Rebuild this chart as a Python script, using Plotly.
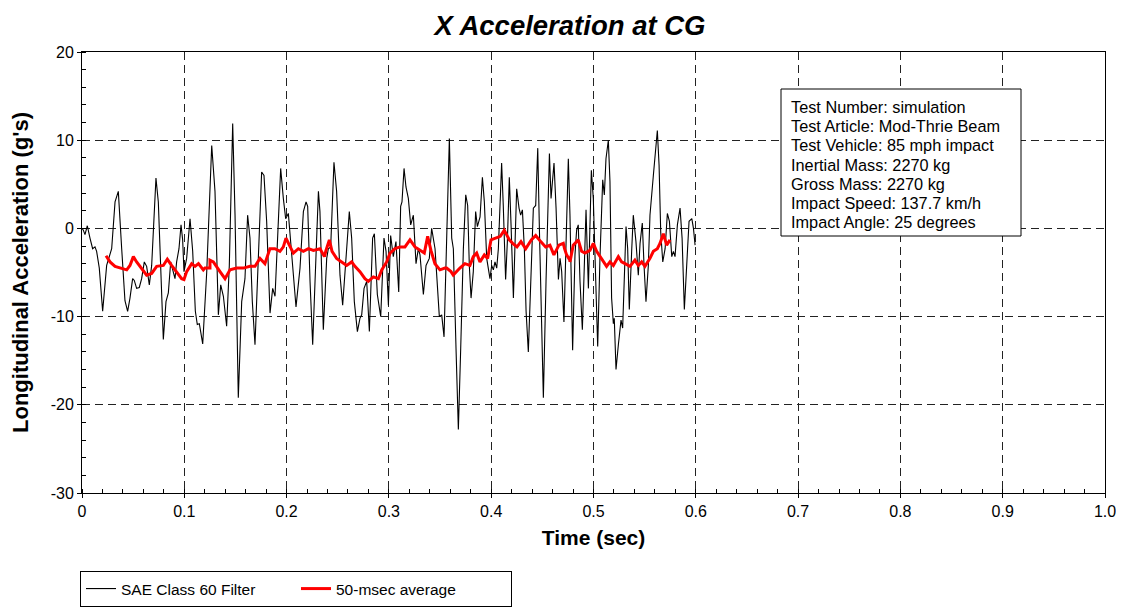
import plotly.graph_objects as go

# ---------------- data ----------------
sae_t = [0.0, 0.0013, 0.0029, 0.0052, 0.0078, 0.0104, 0.0127, 0.0143, 0.0169, 0.0202,
         0.0241, 0.029, 0.0323, 0.0355, 0.0388, 0.042, 0.0446, 0.0469, 0.0495, 0.0511,
         0.0534, 0.056, 0.0583, 0.0609, 0.0632, 0.0658, 0.0681, 0.0704, 0.0723, 0.0746,
         0.0769, 0.0795, 0.0821, 0.0844, 0.0867, 0.0893, 0.0909, 0.0925, 0.0948, 0.0968,
         0.0984, 0.0997, 0.1023, 0.1056, 0.1082, 0.1108, 0.1127, 0.1147, 0.118, 0.1219,
         0.1268, 0.1300, 0.1333, 0.1356, 0.1382, 0.1414, 0.1440, 0.1473, 0.1496, 0.1528,
         0.1561, 0.1593, 0.1619, 0.1642, 0.1665, 0.1691, 0.1724, 0.1756, 0.1779, 0.1805,
         0.1838, 0.1864, 0.1887, 0.1919, 0.1942, 0.1968, 0.1991, 0.2017, 0.205, 0.2092,
         0.2131, 0.2164, 0.219, 0.2206, 0.2229, 0.2255, 0.2278, 0.2311, 0.2326, 0.2359,
         0.2392, 0.2408, 0.2431, 0.2463, 0.2489, 0.2522, 0.2548, 0.2581, 0.2613, 0.2636,
         0.2662, 0.2692, 0.2717, 0.2734, 0.2757, 0.2783, 0.2809, 0.2841, 0.2858, 0.2887,
         0.292, 0.2952, 0.2972, 0.2995, 0.3017, 0.3043, 0.3069, 0.3096, 0.3115, 0.3128,
         0.3148, 0.3167, 0.319, 0.3213, 0.3239, 0.3265, 0.3288, 0.3304, 0.3337, 0.3363,
         0.3395, 0.3418, 0.3451, 0.3493, 0.3516, 0.3539, 0.3565, 0.3591, 0.3614, 0.363,
         0.3656, 0.3679, 0.3702, 0.3728, 0.3751, 0.377, 0.3786, 0.3803, 0.3825, 0.3848,
         0.3865, 0.3891, 0.3914, 0.3933, 0.3956, 0.3988, 0.4005, 0.4021, 0.4037, 0.4054,
         0.407, 0.4102, 0.4118, 0.4141, 0.4158, 0.4177, 0.4194, 0.4217, 0.4249, 0.4272,
         0.4288, 0.4305, 0.4324, 0.4341, 0.4363, 0.4386, 0.4412, 0.4435, 0.4455, 0.4471,
         0.4494, 0.451, 0.4536, 0.4569, 0.4585, 0.4614, 0.4634, 0.4657, 0.4673, 0.4689,
         0.4711, 0.473, 0.4754, 0.477, 0.4796, 0.4819, 0.4835, 0.4851, 0.4868, 0.4891,
         0.4907, 0.4927, 0.495, 0.4979, 0.4998, 0.5018, 0.5041, 0.5063, 0.509, 0.5106,
         0.5122, 0.5145, 0.5161, 0.5177, 0.5194, 0.5203, 0.522, 0.5243, 0.5269, 0.5285,
         0.5301, 0.5318, 0.5334, 0.535, 0.5373, 0.5389, 0.5415, 0.5438, 0.5455, 0.5477,
         0.5494, 0.5513, 0.5536, 0.5552, 0.5585, 0.5608, 0.5624, 0.5641, 0.5657, 0.5677,
         0.57, 0.5722, 0.5742, 0.5765, 0.5781, 0.5797, 0.582, 0.5846, 0.5866, 0.5888,
         0.5911, 0.5934, 0.5961, 0.5977, 0.5993]
sae_g = [0.0, -0.2, -0.7, 0.3, -1.1, -2.3, -2.1, -2.6, -4.5, -9.4,
         -4.2, -2.3, 3.0, 4.2, -2.3, -8.2, -9.4, -7.9, -5.7, -5.9,
         -6.8, -6.7, -5.7, -3.8, -4.3, -6.4, -4.2, 1.5, 5.7, 3.0,
         -5.3, -12.6, -8.3, -7.3, -3.8, -4.9, -5.7, -3.8, -2.3, 0.4,
         -1.3, -4.9, -3.4, 1.1, -2.6, -9.4, -10.9, -10.8, -13.1, -5.0,
         9.4, 4.2, -9.8, -6.4, -7.7, -11.1, -4.2, 11.9, 1.5, -19.2,
         -8.3, -5.7, 1.5, -1.1, -8.3, -13.2, -3.0, 6.4, 6.0, 0.8,
         -9.6, -6.8, -7.7, 1.5, 6.8, 3.4, 1.1, 1.7, -3.0, -8.9,
         -4.5, 1.9, 3.0, 2.5, -6.0, -13.2, -6.0, 4.2, 1.9, -11.5,
         -3.4, -2.3, -2.1, 7.5, 4.2, -5.3, -8.7, -3.0, 1.9, -1.1,
         -8.3, -11.7, -10.2, -9.8, -6.8, -6.0, -11.7, -1.1, -0.6, -7.5,
         -10.0, -1.1, -2.6, -8.7, -0.8, -3.2, -1.5, -7.2, 2.5, 3.0,
         6.8, 4.7, 3.4, 0.4, 1.5, -4.0, -2.3, -3.0, -7.5, -4.2,
         -3.4, 0.0, -2.3, -10.0, -9.8, -12.3, -2.3, 10.2, -1.1, -2.3,
         -13.6, -22.8, -13.6, -2.3, 3.8, 2.6, -4.2, -7.9, -4.9, 1.9,
         0.2, 1.3, 5.8, 3.0, -3.4, -5.7, -4.2, -4.7, -3.8, -4.5,
         -2.3, 7.4, 2.6, -5.8, -1.5, 5.8, 0.4, -7.9, 4.5, 2.3,
         1.5, 2.1, -2.3, -9.4, -14.0, -5.7, 2.3, 2.6, 9.1, 0.0,
         -13.6, -19.2, -6.0, 8.5, 3.4, 7.4, 2.3, -5.8, -3.4, -4.9,
         -10.6, -2.3, 7.9, 1.5, -13.8, -3.0, -0.2, 0.4, -6.0, -11.5,
         -4.2, 2.1, -6.8, 6.6, 3.4, -6.0, -13.4, -3.4, 5.5, 3.8,
         7.9, 10.0, 5.3, -7.9, -10.8, -10.2, -16.0, -13.2, -10.4, -11.3,
         -6.0, 0.2, -2.3, -9.2, -2.6, 1.5, -1.5, -5.3, -1.7, 0.6,
         -4.2, -8.3, -4.2, 1.5, 6.0, 9.1, 11.1, 7.2, -0.4, -3.8,
         -2.3, 1.7, 0.8, -3.2, -2.6, -3.2, 0.4, 2.3, -1.1, -9.2,
         -4.2, 0.8, 1.1, 0.0, -1.9]

avg_t = [0.0235, 0.0274, 0.0323, 0.0372, 0.0437, 0.0469, 0.0502, 0.0534, 0.0583, 0.0632,
         0.0681, 0.073, 0.0795, 0.0834, 0.0876, 0.0925, 0.0974, 0.0997, 0.1023, 0.1072,
         0.1105, 0.1138, 0.1186, 0.1219, 0.1251, 0.1202, 0.1251, 0.1284, 0.1349, 0.1398,
         0.1447, 0.1512, 0.1577, 0.1642, 0.1691, 0.174, 0.1788, 0.1837, 0.1886, 0.1935,
         0.1968, 0.1994, 0.2027, 0.2066, 0.2115, 0.2164, 0.2213, 0.2262, 0.2327, 0.237,
         0.2385, 0.2418, 0.2444, 0.2489, 0.2538, 0.2587, 0.2636, 0.2668, 0.2717, 0.2766,
         0.2799, 0.2848, 0.2897, 0.293, 0.2978, 0.3011, 0.306, 0.3109, 0.3157, 0.3206,
         0.3255, 0.3304, 0.3346, 0.3379, 0.3411, 0.345, 0.3499, 0.3548, 0.3607, 0.3564,
         0.3629, 0.3694, 0.3743, 0.3792, 0.3825, 0.3858, 0.389, 0.3933, 0.3965, 0.3998,
         0.4047, 0.4089, 0.4128, 0.4177, 0.421, 0.4252, 0.4291, 0.4337, 0.4392, 0.4435,
         0.4484, 0.4532, 0.4574, 0.4613, 0.4662, 0.4717, 0.4769, 0.4705, 0.4737, 0.477,
         0.4802, 0.4851, 0.4884, 0.4916, 0.4965, 0.4998, 0.5031, 0.5079, 0.5128, 0.5161,
         0.5194, 0.5243, 0.5275, 0.5308, 0.5357, 0.5405, 0.5438, 0.5471, 0.5503, 0.5552,
         0.5585, 0.5624, 0.565, 0.5683, 0.5715, 0.5748]
avg_g = [-3.1, -3.8, -4.3, -4.5, -4.7, -4.2, -3.2, -3.8, -4.5, -5.3,
         -5.1, -4.3, -4.2, -3.5, -4.2, -4.9, -5.7, -5.8, -4.9, -4.0,
         -4.3, -4.0, -4.7, -4.5, -3.6, -4.5, -4.5, -3.8, -4.9, -5.7,
         -4.7, -4.5, -4.5, -4.3, -4.3, -3.4, -4.0, -2.3, -2.3, -2.6,
         -2.1, -1.1, -1.9, -2.8, -2.3, -2.6, -2.3, -2.5, -2.3, -3.2,
         -2.5, -1.3, -2.6, -3.4, -3.8, -4.2, -3.8, -4.3, -4.9, -5.7,
         -6.0, -5.5, -5.7, -4.7, -3.8, -2.8, -2.3, -2.1, -2.1, -1.3,
         -2.1, -2.5, -2.8, -0.9, -2.5, -4.0, -4.7, -4.5, -4.9, -4.5,
         -5.3, -4.5, -4.0, -4.2, -3.2, -2.8, -3.8, -3.0, -3.4, -1.3,
         -1.1, -0.9, -0.2, -1.3, -1.7, -2.1, -1.5, -2.3, -1.3, -0.8,
         -1.5, -2.1, -1.9, -3.0, -1.9, -2.3, -3.6, -1.7, -3.0, -3.8,
         -1.9, -1.3, -2.6, -2.8, -2.5, -1.7, -2.6, -3.4, -4.3, -3.8,
         -4.2, -3.2, -3.8, -4.0, -4.3, -3.6, -4.2, -3.8, -4.3, -3.4,
         -2.6, -2.3, -1.7, -0.6, -1.9, -1.3]

x_tick_vals = [0, 0.1, 0.2, 0.3, 0.4, 0.5, 0.6, 0.7, 0.8, 0.9, 1.0]
x_tick_text = ["0", "0.1", "0.2", "0.3", "0.4", "0.5", "0.6", "0.7", "0.8", "0.9", "1.0"]
y_tick_vals = [-30, -20, -10, 0, 10, 20]
y_tick_text = ["-30", "-20", "-10", "0", "10", "20"]

info_lines = ["Test Number: simulation",
              "Test Article: Mod-Thrie Beam",
              "Test Vehicle: 85 mph impact",
              "Inertial Mass: 2270 kg",
              "Gross Mass: 2270 kg",
              "Impact Speed: 137.7 km/h",
              "Impact Angle: 25 degrees"]

# red trace points are in reading order; sort by time
pairs = sorted(zip(avg_t, avg_g))
avg_t_s = [p[0] for p in pairs]
avg_g_s = [p[1] for p in pairs]

FONT = "Arial, Liberation Sans, sans-serif"

# the page body has an 8px margin: the figure is drawn 8px in from the window corner
OFF = 8
FIG_W, FIG_H = 1124 - OFF, 607 - OFF
# plot area in window pixels (reference coordinates)
L, R, T, B = 82, 1105, 52, 493
W, H = R - L, B - T


def px_x(p):
    return (p - L) / W


def px_y(p):
    return (B - p) / H


fig = go.Figure()
fig.add_trace(go.Scatter(x=sae_t, y=sae_g, mode="lines", name="SAE Class 60 Filter",
                         line=dict(color="black", width=1.1)))
fig.add_trace(go.Scatter(x=avg_t_s, y=avg_g_s, mode="lines", name="50-msec average",
                         line=dict(color="#ff0000", width=3)))

fig.update_layout(
    width=FIG_W, height=FIG_H,
    margin=dict(l=L - OFF, r=1124 - R, t=T - OFF, b=607 - B, autoexpand=False),
    paper_bgcolor="white", plot_bgcolor="white",
    font=dict(family=FONT, size=16, color="black"),
    title=dict(text="<b><i>X Acceleration at CG</i></b>", x=(570 - OFF) / FIG_W, xanchor="center",
               y=1 - (25 - OFF) / FIG_H, yanchor="middle",
               font=dict(size=27.5, family=FONT)),
    showlegend=True,
    legend=dict(orientation="h", x=px_x(80), xanchor="left", y=px_y(589), yanchor="middle",
                bordercolor="black", borderwidth=1, bgcolor="white",
                font=dict(size=15.5, family=FONT), entrywidth=170, entrywidthmode="pixels",
                tracegroupgap=0, itemwidth=30),
)

axis_common = dict(showline=True, linecolor="black", linewidth=1, mirror=True,
                   showgrid=True, gridcolor="#222", gridwidth=1, griddash="8px,5px",
                   zeroline=False, ticks="outside", ticklen=4, tickcolor="black",
                   automargin=False, tickfont=dict(size=16, family=FONT))

fig.update_xaxes(range=[0, 1.0], tickmode="array", tickvals=x_tick_vals, ticktext=x_tick_text,
                 title=dict(text="<b>Time (sec)</b>", font=dict(size=21, family=FONT), standoff=11),
                 minor=dict(dtick=0.02, ticks="inside", ticklen=4, tickcolor="black", showgrid=False),
                 **axis_common)
fig.update_yaxes(range=[-30, 20], tickmode="array", tickvals=y_tick_vals, ticktext=y_tick_text,
                 title=dict(text="<b>Longitudinal Acceleration (g's)</b>", font=dict(size=22, family=FONT), standoff=21),
                 minor=dict(dtick=2, ticks="inside", ticklen=4, tickcolor="black", showgrid=False),
                 **axis_common)

# info box
fig.add_shape(type="rect", xref="paper", yref="paper",
              x0=px_x(781), x1=px_x(1021), y0=px_y(236), y1=px_y(89),
              line=dict(color="black", width=1), fillcolor="white", layer="above")
for i, line in enumerate(info_lines):
    fig.add_annotation(xref="paper", yref="paper", x=px_x(790), y=px_y(107 + i * 19.17),
                       xanchor="left", yanchor="middle", align="left", showarrow=False,
                       text=line, font=dict(size=16.3, family=FONT), borderpad=0)

fig.write_html("out.html")
